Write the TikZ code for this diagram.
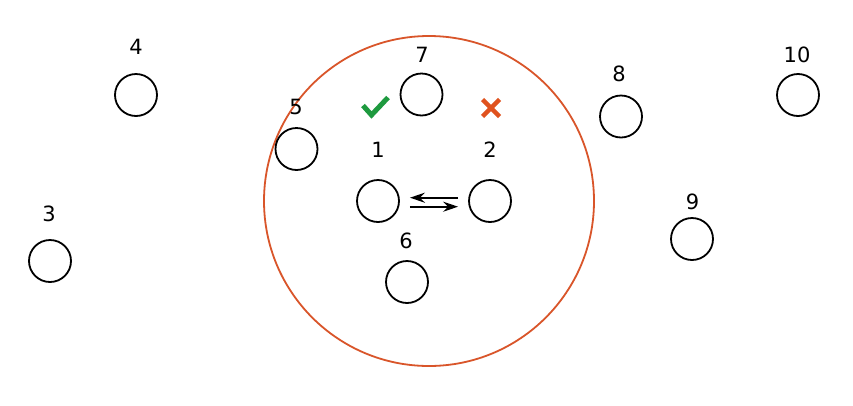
\documentclass[tikz,border=0pt]{standalone}
\usepackage{fontspec}
\setmainfont{DejaVu Sans}
\usetikzlibrary{arrows.meta}
\definecolor{ringred}{HTML}{D9552A}
\definecolor{okgreen}{HTML}{1E9A3F}
\definecolor{nored}{HTML}{E0521E}
\tikzset{
  vert/.style={circle, draw=black, line width=1.8pt, minimum size=42pt, inner sep=0pt},
  lbl/.style={inner sep=0pt, font=\fontsize{21}{24}\selectfont},
  flow/.style={line width=1.8pt, -{Stealth[length=15pt,width=10pt,inset=5pt]}},
}
\begin{document}
\begin{tikzpicture}[x=1pt,y=-1pt]
\useasboundingbox (0,0) rectangle (853,405);
\fill[white] (0,0) rectangle (853,405);
\draw[ringred, line width=1.8pt] (429,201) circle (165);
\node[vert] (n1) at (378,201) {};
\node[vert] (n2) at (490,201) {};
\node[vert] (n3) at (50,261) {};
\node[vert] (n4) at (136,95) {};
\node[vert] (n5) at (296.5,149) {};
\node[vert] (n6) at (407,282) {};
\node[vert] (n7) at (421.5,94.5) {};
\node[vert] (n8) at (621,116.5) {};
\node[vert] (n9) at (692,239) {};
\node[vert] (n10) at (798,95) {};
\node[lbl] (l1) at (378,149.5) {1};
\node[lbl] (l2) at (490,150) {2};
\node[lbl] (l3) at (49,214) {3};
\node[lbl] (l4) at (136,47) {4};
\node[lbl] (l5) at (296,107) {5};
\node[lbl] (l6) at (406,241) {6};
\node[lbl] (l7) at (422,55) {7};
\node[lbl] (l8) at (619,74) {8};
\node[lbl] (l9) at (692.5,201.5) {9};
\node[lbl] (l10) at (797,55.3) {10};
\draw[flow, shorten >=10pt, shorten <=10pt] ([yshift=3.3pt]n2.west) -- ([yshift=3.3pt]n1.east);
\draw[flow, shorten >=10pt, shorten <=10pt] ([yshift=-5.7pt]n1.east) -- ([yshift=-5.7pt]n2.west);
\coordinate (ck1) at (363,105.5);
\coordinate (ck2) at (371.5,115);
\coordinate (ck3) at (388,97.5);
\draw[okgreen, line width=5pt] (ck1) -- (ck2) -- (ck3);
\coordinate (cx) at (491,108);
\draw[nored, line width=4.5pt] ([shift={(-8.5,-8.5)}]cx) -- ([shift={(8.5,8.5)}]cx);
\draw[nored, line width=4.5pt] ([shift={(-8.5,8.5)}]cx) -- ([shift={(8.5,-8.5)}]cx);
\end{tikzpicture}
\end{document}
